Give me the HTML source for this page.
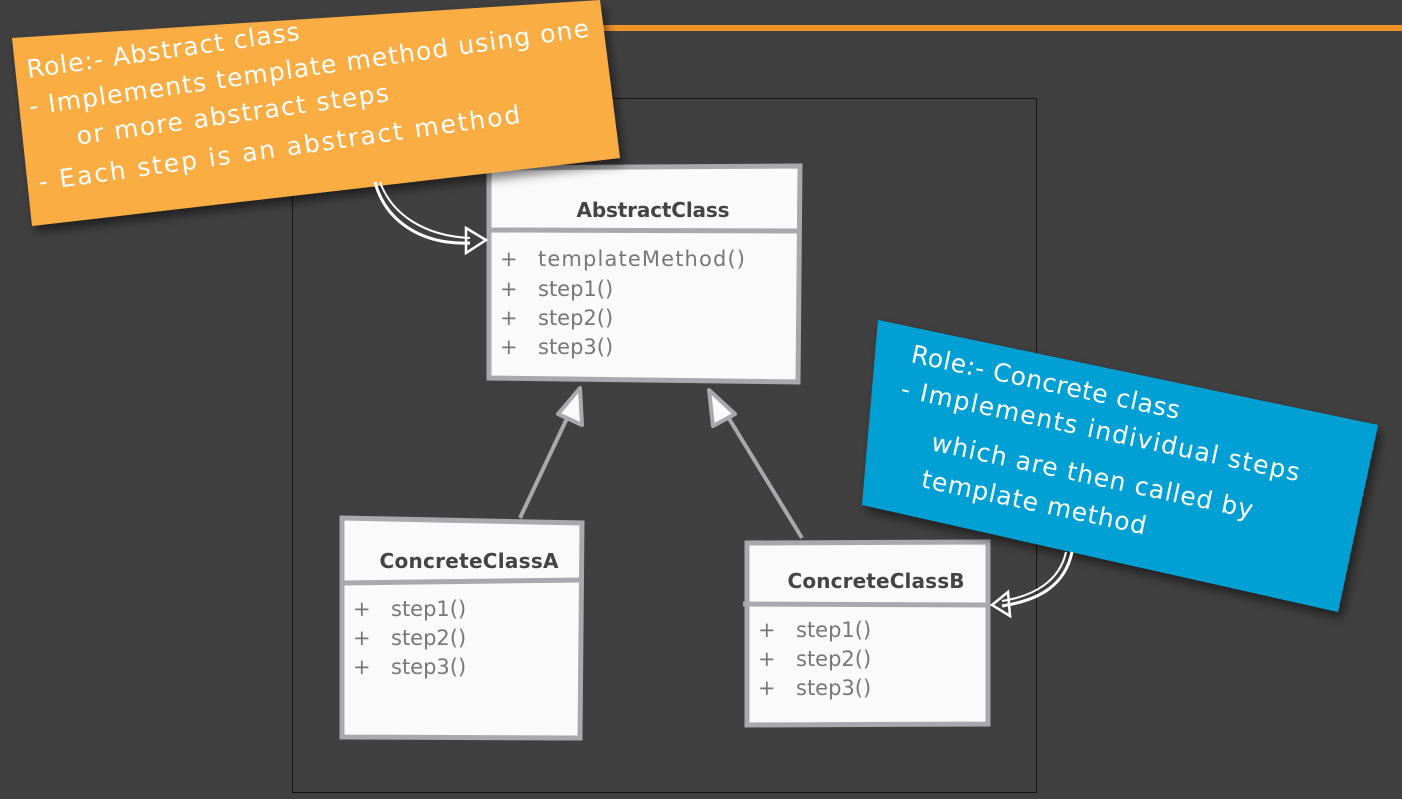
<!DOCTYPE html>
<html><head><meta charset="utf-8"><style>
html,body{margin:0;padding:0;background:#404040;width:1402px;height:799px;overflow:hidden}
svg{display:block}
.hand{font-family:"Comic Sans MS","DejaVu Sans","Liberation Sans",sans-serif;fill:#fff;font-size:25px}
.t{font-family:"DejaVu Sans","Liberation Sans",sans-serif;font-weight:bold;fill:#444;font-size:20px}
.m{font-family:"DejaVu Sans","Liberation Sans",sans-serif;fill:#777;font-size:21px}
</style></head><body>
<svg width="1402" height="799" viewBox="0 0 1402 799">
<defs><filter id="sh" x="-10%" y="-10%" width="130%" height="130%"><feDropShadow dx="4" dy="6" stdDeviation="5" flood-color="#000" flood-opacity="0.5"/></filter></defs>
<rect x="0" y="0" width="1402" height="799" fill="#404040"/>
<rect x="600" y="25" width="802" height="6" fill="#f0932b"/>
<rect x="292.5" y="98.5" width="744" height="694" fill="none" stroke="#161616" stroke-width="1"/>

<g stroke="#a9a9ad" stroke-width="4" fill="#fafafa">
<line x1="520" y1="518" x2="570" y2="412"/>
<line x1="802" y1="538" x2="725" y2="412"/>
<polygon points="580,388 582,425 558,414" stroke-linejoin="round"/>
<polygon points="709,390 735,414 713,426" stroke-linejoin="round"/>
</g>

<g stroke="#a9a9ad" stroke-width="5" fill="#fafafa">
<path d="M489,168 L800,166 L798,382 L489,378 Z"/>
<line x1="489" y1="230" x2="799" y2="231"/>
</g>
<text class="t" x="653" y="217" text-anchor="middle" textLength="153">AbstractClass</text>
<text class="m" x="500" y="266">+</text><text class="m" x="538" y="266" textLength="207">templateMethod()</text>
<text class="m" x="500" y="296">+</text><text class="m" x="538" y="296">step1()</text>
<text class="m" x="500" y="325">+</text><text class="m" x="538" y="325">step2()</text>
<text class="m" x="500" y="354">+</text><text class="m" x="538" y="354">step3()</text>

<g stroke="#a9a9ad" stroke-width="5" fill="#fafafa">
<path d="M342,518 L582,523 L580,738 L342,737 Z"/>
<line x1="342" y1="583" x2="582" y2="580"/>
</g>
<text class="t" x="469" y="568" text-anchor="middle" textLength="179">ConcreteClassA</text>
<text class="m" x="353" y="616">+</text><text class="m" x="391" y="616">step1()</text>
<text class="m" x="353" y="645">+</text><text class="m" x="391" y="645">step2()</text>
<text class="m" x="353" y="674">+</text><text class="m" x="391" y="674">step3()</text>

<g stroke="#a9a9ad" stroke-width="5" fill="#fafafa">
<path d="M747,543 L988,542 L988,724 L747,725 Z"/>
<line x1="743" y1="604" x2="988" y2="605"/>
</g>
<text class="t" x="876" y="588" text-anchor="middle" textLength="177">ConcreteClassB</text>
<text class="m" x="758" y="637">+</text><text class="m" x="796" y="637">step1()</text>
<text class="m" x="758" y="666">+</text><text class="m" x="796" y="666">step2()</text>
<text class="m" x="758" y="695">+</text><text class="m" x="796" y="695">step3()</text>

<polygon points="12,38 600,0 620,158 32,226" fill="#f9ad42" filter="url(#sh)"/>
<g transform="translate(28,78) rotate(-8)">
<text class="hand" x="0" y="0" textLength="275">Role:- Abstract class</text>
<text class="hand" x="-3" y="37" textLength="565">-  Implements template method using one</text>
<text class="hand" x="40" y="73" textLength="315">or more abstract steps</text>
<text class="hand" x="-4" y="113" textLength="486">-  Each step is an abstract method</text>
</g>
<path d="M375,182 C385,220 420,245 470,243" fill="none" stroke="#fff" stroke-width="3"/>
<path d="M380,182 C392,215 425,236 470,238" fill="none" stroke="#fff" stroke-width="2"/>
<polygon points="466,228 486,240 466,253" fill="none" stroke="#fff" stroke-width="2.5"/>

<polygon points="878,320 1378,425 1338,612 862,505" fill="#00a0d4" filter="url(#sh)"/>
<g transform="translate(910,362) rotate(12)">
<text class="hand" x="0" y="0" textLength="274">Role:- Concrete class</text>
<text class="hand" x="-3" y="36" textLength="407">-  Implements individual steps</text>
<text class="hand" x="38" y="82" textLength="328">which are then called by</text>
<text class="hand" x="36" y="120" textLength="229">template method</text>
</g>
<path d="M1072,552 C1065,585 1040,600 1002,606" fill="none" stroke="#fff" stroke-width="3"/>
<path d="M1066,552 C1060,580 1035,596 1002,601" fill="none" stroke="#fff" stroke-width="2"/>
<polygon points="1008,592 992,605 1010,616" fill="none" stroke="#fff" stroke-width="2.5"/>
</svg>
</body></html>
